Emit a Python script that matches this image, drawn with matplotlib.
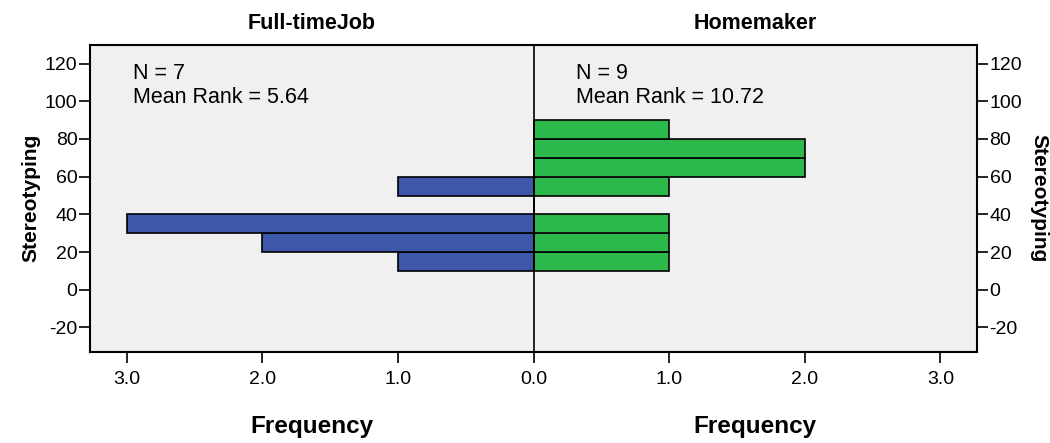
import numpy as np
import matplotlib.pyplot as plt

plt.rcParams['font.family'] = ['Liberation Sans', 'DejaVu Sans']

# histogram bins of Stereotyping (lower edges, width 10)
bin_lo = [10, 20, 30, 40, 50, 60, 70, 80]
freq_job = [1, 2, 3, 0, 1, 0, 0, 0]
freq_home = [1, 1, 1, 0, 1, 2, 2, 1]
groups = ['Full-timeJob', 'Homemaker']
n_vals = [7, 9]
mean_ranks = [5.64, 10.72]
x_ticks = [-3, -2, -1, 0, 1, 2, 3]
y_ticks = [-20, 0, 20, 40, 60, 80, 100, 120]

blue = '#3d58aa'
green = '#2db84b'

fig = plt.figure(figsize=(10.5, 4.43), dpi=100)
ax = fig.add_axes([0.0857, 0.2054, 0.8448, 0.6937])
ax.set_facecolor('#f0f0f0')

lo = np.array(bin_lo)
ax.barh(lo, -np.array(freq_job), height=10, align='edge',
        color=blue, edgecolor='black', linewidth=1.2)
ax.barh(lo, freq_home, height=10, align='edge',
        color=green, edgecolor='black', linewidth=1.2)
ax.axvline(0, color='black', linewidth=1.2)

ax.set_xlim(-3.27, 3.27)
ax.set_ylim(-33, 130)
ax.set_xticks(x_ticks)
ax.set_xticklabels(['%.1f' % abs(t) for t in x_ticks], fontsize=14)
ax.set_yticks(y_ticks)
ax.set_yticklabels([str(t) for t in y_ticks], fontsize=14)
ax.tick_params(axis='both', direction='out', length=8, width=1.2, colors='black')
ax.tick_params(axis='x', pad=6)
ax.tick_params(axis='y', left=True, right=True,
               labelleft=True, labelright=True, pad=1)
for s in ax.spines.values():
    s.set_linewidth(1.5)

ax.set_ylabel('Stereotyping', fontsize=15, fontweight='bold', labelpad=3)
fig.text(0.989, 0.5535, 'Stereotyping', fontsize=15, fontweight='bold',
         rotation=-90, ha='center', va='center')

# group titles and frequency labels
for xc, g in zip([0.25, 0.75], groups):
    ax.text(xc, 1.035, g, transform=ax.transAxes, ha='center', va='bottom',
            fontsize=15.5, fontweight='bold')
    ax.text(xc, -0.205, 'Frequency', transform=ax.transAxes, ha='center',
            va='top', fontsize=17.5, fontweight='bold')

# N and mean rank per group
for x0, n, mr in zip([-2.95, 0.31], n_vals, mean_ranks):
    ax.text(x0, 114.9, 'N = %d' % n, ha='left', va='center', fontsize=15.5)
    ax.text(x0, 102.2, 'Mean Rank = %.2f' % mr, ha='left', va='center',
            fontsize=15.5)

fig.savefig('out.png', dpi=100)
